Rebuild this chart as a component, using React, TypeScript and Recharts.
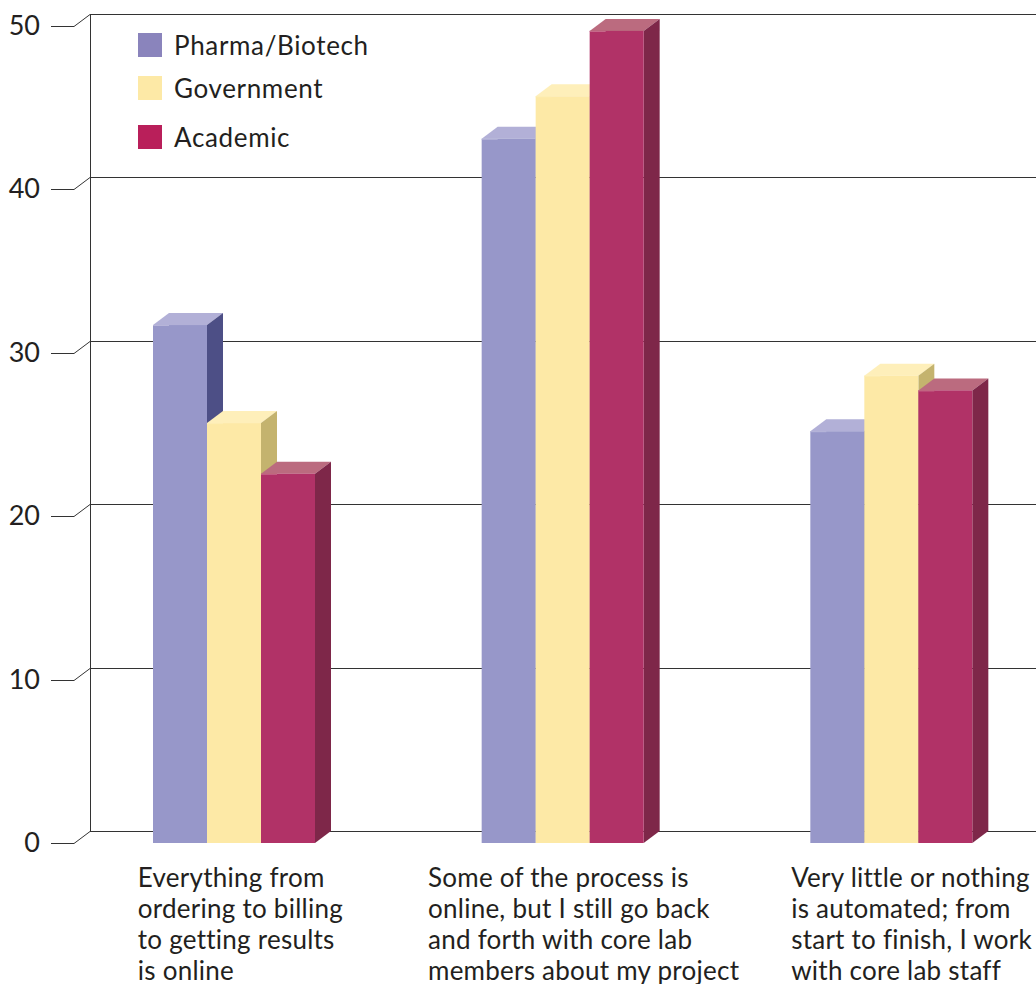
import { BarChart, Bar, XAxis, YAxis, CartesianGrid } from "recharts";

const categories = ["online", "partial", "manual"];
const pharma = [31.7, 43.1, 25.2];
const government = [25.7, 45.7, 28.6];
const academic = [22.6, 49.7, 27.7];
const yTicks = [0, 10, 20, 30, 40, 50];
const yMax = 50;

const labelLines: Record<string, string[]> = {
  online: ["Everything from", "ordering to billing", "to getting results", "is online"],
  partial: ["Some of the process is", "online, but I still go back", "and forth with core lab", "members about my project"],
  manual: ["Very little or nothing", "is automated; from", "start to finish, I work", "with core lab staff"],
};
const labelOffset: Record<string, number> = { online: -96.5, partial: -135, manual: -100.5 };

const legendItems = [
  { name: "Pharma/Biotech", color: "#8a84bc", top: 33 },
  { name: "Government", color: "#fde9a6", top: 76 },
  { name: "Academic", color: "#b91f5a", top: 125 },
];

const data = categories.map((c, i) => ({
  name: c,
  pharma: pharma[i],
  government: government[i],
  academic: academic[i],
}));

const FONT = "Lato";
const TEXT = "#231f20";
const DX = 16;
const DY = 12;
const PLOT_TOP = 26;
const PLOT_HEIGHT = 817;

function Box3D(props: any) {
  const { x, y, width, height, front, top, side, edge } = props;
  return (
    <g>
      <polygon points={`${x},${y} ${x + DX},${y - DY} ${x + width + DX},${y - DY} ${x + width},${y}`} fill={top} />
      <polygon points={`${x + width},${y} ${x + width + DX},${y - DY} ${x + width + DX},${y + height - DY} ${x + width},${y + height}`} fill={side} />
      <rect x={x} y={y} width={width} height={height} fill={front} />
      <line x1={x} x2={x + DX} y1={y + 0.5} y2={y + 0.5} stroke={edge} />
    </g>
  );
}

function WallTick(props: any) {
  const { y, payload } = props;
  const wallY = Math.round(y - DY) + 0.5;
  const tickY = Math.round(y) + 0.5;
  return (
    <g>
      <text x={40} y={y + 9} textAnchor="end" fontFamily={FONT} fontSize={27} fill={TEXT}>{payload.value}</text>
      <polyline points={`51,${tickY} 74,${tickY} 90,${wallY}`} fill="none" stroke="#333" strokeWidth={1} />
    </g>
  );
}

function CategoryTick(props: any) {
  const { x, payload } = props;
  const lx = x + labelOffset[payload.value];
  return (
    <text fontFamily={FONT} fontSize={26} letterSpacing={0.25} fill={TEXT}>
      {labelLines[payload.value].map((line, i) => (
        <tspan key={i} x={lx} y={887 + i * 31}>{line}</tspan>
      ))}
    </text>
  );
}

function ChartLegend() {
  return (
    <div style={{ position: "absolute", left: 138, top: 0 }}>
      {legendItems.map((it) => (
        <div key={it.name} style={{ position: "absolute", left: 0, top: it.top, display: "flex", alignItems: "center", height: 24 }}>
          <span style={{ width: 24, height: 24, background: it.color, display: "block" }} />
          <span style={{ marginLeft: 12, fontFamily: FONT, fontSize: 26, letterSpacing: 0.65, color: TEXT, whiteSpace: "nowrap" }}>{it.name}</span>
        </div>
      ))}
    </div>
  );
}

// back wall sits up and to the right of the value axis
const wallLines = yTicks.map((t) => Math.round(PLOT_TOP + PLOT_HEIGHT * (1 - t / yMax) - DY) + 0.5);

export default function App() {
  return (
    <div style={{ position: "absolute", left: 0, top: 0, width: 1036, height: 984, overflow: "hidden", background: "#fff" }}>
      <BarChart
        width={1076}
        height={984}
        data={data}
        margin={{ top: PLOT_TOP, right: 20, bottom: 0, left: 0 }}
        barSize={54}
        barGap={0}
        barCategoryGap={83}
      >
        <CartesianGrid
          x={90}
          y={14}
          width={946}
          height={817}
          stroke="#333"
          horizontalPoints={wallLines}
          verticalPoints={[90.5]}
        />
        <YAxis
          domain={[0, yMax]}
          ticks={yTicks}
          width={50}
          axisLine={false}
          tickLine={false}
          tick={<WallTick />}
          interval={0}
        />
        <XAxis
          dataKey="name"
          height={141}
          axisLine={false}
          tickLine={false}
          padding={{ left: 20, right: 0 }}
          tick={<CategoryTick />}
          interval={0}
        />
        <Bar dataKey="pharma" isAnimationActive={false} shape={(p: any) => <Box3D {...p} front="#9797c9" top="#b2b0d7" side="#4d4f86" edge="#b8b6da" />} />
        <Bar dataKey="government" isAnimationActive={false} shape={(p: any) => <Box3D {...p} front="#fde9a6" top="#feefba" side="#c4b36e" edge="#fdeeb5" />} />
        <Bar dataKey="academic" isAnimationActive={false} shape={(p: any) => <Box3D {...p} front="#b13267" top="#bb6b7f" side="#7e2749" edge="#c9708f" />} />
      </BarChart>
      <ChartLegend />
    </div>
  );
}
